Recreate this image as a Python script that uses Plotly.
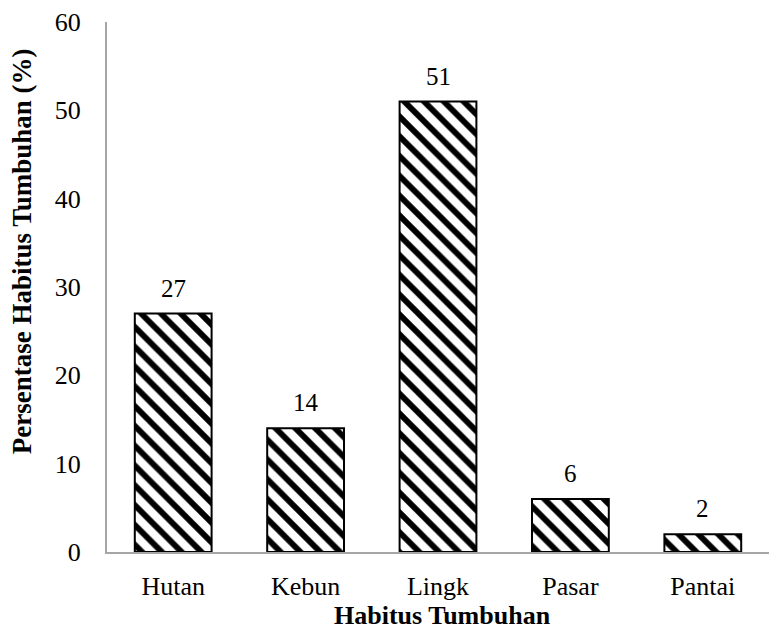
import plotly.graph_objects as go

categories = ["Hutan", "Kebun", "Lingk", "Pasar", "Pantai"]
values = [27, 14, 51, 6, 2]
y_ticks = [0, 10, 20, 30, 40, 50, 60]

FONT = "Liberation Serif, Times New Roman, serif"

fig = go.Figure()
fig.add_trace(go.Bar(
    x=categories,
    y=values,
    width=0.58,
    marker=dict(
        color="white",
        line=dict(color="black", width=2),
        pattern=dict(shape="\\", size=14, solidity=0.42,
                     fgcolor="black", fgopacity=1, bgcolor="white",
                     fillmode="overlay"),
    ),
    showlegend=False,
))

# value labels above each bar
for c, v in zip(categories, values):
    fig.add_annotation(x=c, y=v, text=str(v), showarrow=False,
                       yanchor="bottom", yshift=10,
                       font=dict(family=FONT, size=25, color="black"))

# axis titles
fig.add_annotation(xref="paper", yref="paper", x=-0.128, y=0.568,
                   text="<b>Persentase Habitus Tumbuhan (%)</b>",
                   textangle=-90, showarrow=False,
                   xanchor="center", yanchor="middle",
                   font=dict(family=FONT, size=27, color="black"))
fig.add_annotation(xref="paper", yref="paper", x=0.507, y=-0.151,
                   text="<b>Habitus Tumbuhan</b>", showarrow=False,
                   xanchor="center", yanchor="bottom",
                   font=dict(family=FONT, size=26, color="black"))

fig.update_layout(
    width=769, height=631,
    margin=dict(l=107, r=0, t=22, b=79),
    paper_bgcolor="white", plot_bgcolor="white",
    font=dict(family=FONT, size=26, color="black"),
)
fig.update_xaxes(
    showline=True, linecolor="#a6a6a6", linewidth=2,
    showgrid=False, ticks="", ticklabelstandoff=10,
    tickfont=dict(family=FONT, size=26),
)
fig.update_yaxes(
    range=[0, 60], tickvals=y_ticks,
    showline=True, linecolor="#a6a6a6", linewidth=2,
    showgrid=False, zeroline=False, ticks="", ticklabelstandoff=19,
    tickfont=dict(family=FONT, size=26),
)

fig.write_html("out.html")
